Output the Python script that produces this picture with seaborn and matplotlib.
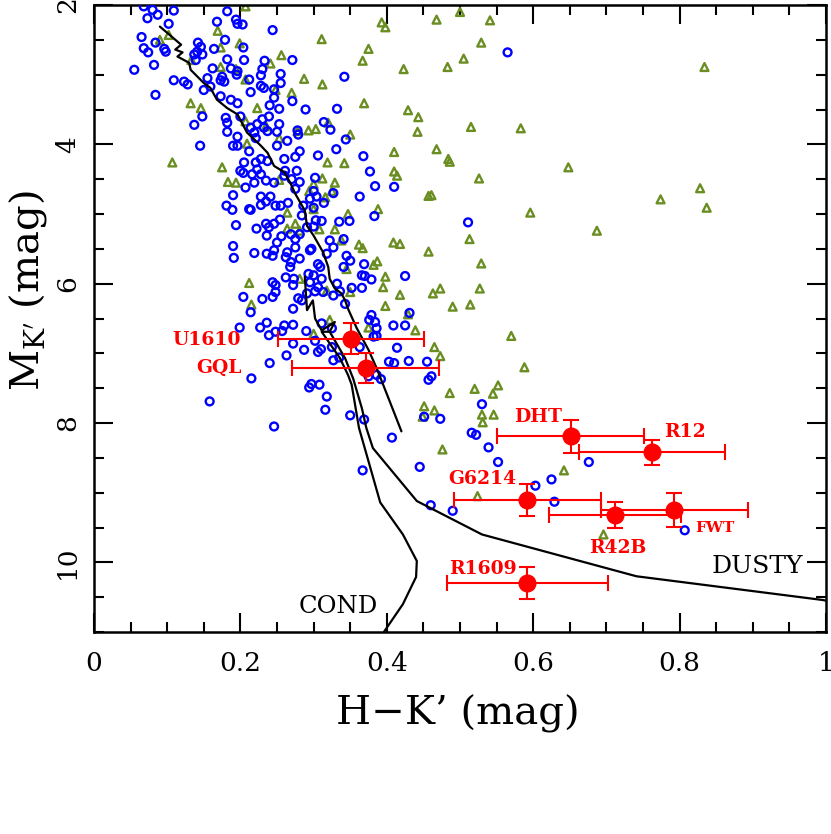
import numpy as np
import pandas as pd
import matplotlib
matplotlib.use("Agg")
import matplotlib.pyplot as plt
import seaborn as sns
from matplotlib.ticker import MultipleLocator

sns.set_theme(style="ticks")
plt.rcParams['font.family'] = ['DejaVu Serif']
plt.rcParams['mathtext.fontset'] = 'dejavuserif'
plt.rcParams['text.color'] = 'black'
plt.rcParams['axes.labelcolor'] = 'black'

# --- field dwarfs (blue circles): H-K', M_K' ---
blue_hk = [
    0.068, 0.080, 0.087, 0.109, 0.073, 0.182, 0.102, 0.168, 0.194, 0.203, 0.196, 0.244,
    0.065, 0.084, 0.068, 0.074, 0.096, 0.098, 0.142, 0.146, 0.141, 0.164, 0.179, 0.204,
    0.055, 0.082, 0.137, 0.139, 0.148, 0.182, 0.205, 0.233, 0.162, 0.187, 0.196, 0.230,
    0.255, 0.109, 0.123, 0.128, 0.155, 0.175, 0.173, 0.178, 0.195, 0.212, 0.228, 0.150,
    0.159, 0.228, 0.232, 0.214, 0.246, 0.255, 0.084, 0.173, 0.187, 0.196, 0.246, 0.240,
    0.253, 0.148, 0.137, 0.180, 0.182, 0.200, 0.214, 0.223, 0.230, 0.232, 0.239, 0.253,
    0.182, 0.196, 0.219, 0.221, 0.237, 0.250, 0.264, 0.145, 0.190, 0.196, 0.250,
    0.271, 0.565, 0.342, 0.271, 0.289, 0.332, 0.314, 0.323, 0.278, 0.279, 0.344,
    0.212, 0.228, 0.237, 0.260, 0.205, 0.221, 0.200, 0.204, 0.216, 0.223, 0.228, 0.235,
    0.246, 0.219, 0.207, 0.260, 0.190, 0.228, 0.241, 0.235, 0.228, 0.265, 0.248, 0.255,
    0.181, 0.189, 0.212, 0.214, 0.254, 0.194, 0.222, 0.235, 0.239, 0.246, 0.236, 0.256,
    0.250, 0.269, 0.190, 0.191, 0.219, 0.236, 0.244, 0.246, 0.264, 0.262, 0.269, 0.268,
    0.262, 0.244, 0.248, 0.273,
    0.275, 0.281, 0.306, 0.331, 0.368, 0.277, 0.261, 0.270, 0.281, 0.302, 0.377, 0.384,
    0.410, 0.275, 0.300, 0.327, 0.295, 0.304, 0.314, 0.363, 0.286, 0.300, 0.284, 0.303,
    0.311, 0.335, 0.349, 0.383, 0.511, 0.291, 0.300, 0.281, 0.275, 0.322, 0.341, 0.327,
    0.275, 0.295, 0.297, 0.318, 0.281, 0.306, 0.309, 0.345, 0.350, 0.341, 0.369, 0.366,
    0.370, 0.379, 0.425, 0.293, 0.300, 0.311, 0.272, 0.295, 0.306, 0.332, 0.352,
    0.204, 0.230, 0.244, 0.248, 0.214, 0.272, 0.199, 0.227, 0.236, 0.239, 0.248, 0.257,
    0.260, 0.272, 0.272, 0.263, 0.240, 0.215, 0.158, 0.246,
    0.302, 0.291, 0.279, 0.284, 0.313, 0.327, 0.343, 0.336, 0.366, 0.379, 0.384, 0.376,
    0.386, 0.382, 0.386, 0.409, 0.425, 0.431, 0.290, 0.311, 0.325, 0.302, 0.325, 0.287,
    0.306, 0.310, 0.335, 0.327, 0.363, 0.414, 0.403, 0.410, 0.430, 0.455, 0.457, 0.461,
    0.386, 0.392, 0.375, 0.294, 0.297, 0.308, 0.318, 0.316, 0.350, 0.369, 0.407, 0.530,
    0.473, 0.451, 0.516, 0.522,
    0.539, 0.552, 0.676, 0.625, 0.603, 0.367, 0.445, 0.460, 0.490, 0.629, 0.807,
]
blue_mk = [
    2.02, 2.07, 2.14, 2.08, 2.19, 2.09, 2.27, 2.24, 2.21, 2.28, 2.27, 2.36,
    2.46, 2.54, 2.62, 2.68, 2.63, 2.67, 2.54, 2.60, 2.67, 2.63, 2.50, 2.61,
    2.93, 2.86, 2.71, 2.79, 2.71, 2.78, 2.79, 2.80, 2.91, 2.91, 2.95, 2.92,
    2.99, 3.08, 3.10, 3.14, 3.05, 3.03, 3.08, 3.10, 3.00, 3.07, 3.01, 3.22,
    3.17, 3.16, 3.19, 3.25, 3.21, 3.12, 3.29, 3.31, 3.36, 3.41, 3.33, 3.44,
    3.49, 3.60, 3.72, 3.62, 3.69, 3.60, 3.76, 3.71, 3.64, 3.76, 3.60, 3.71,
    3.82, 3.89, 3.83, 3.91, 3.81, 3.82, 3.95, 4.02, 4.02, 4.02, 4.02,
    2.79, 2.68, 3.03, 3.38, 3.50, 3.49, 3.68, 3.79, 3.80, 3.86, 3.93,
    4.10, 4.21, 4.24, 4.21, 4.26, 4.26, 4.38, 4.41, 4.43, 4.36, 4.43, 4.52,
    4.55, 4.55, 4.62, 4.45, 4.73, 4.75, 4.75, 4.82, 4.87, 4.84, 4.88, 4.88,
    4.88, 4.94, 4.93, 4.94, 5.08, 5.16, 5.21, 5.14, 5.19, 5.14, 5.31, 5.32,
    5.41, 5.29, 5.46, 5.63, 5.56, 5.57, 5.60, 5.52, 5.55, 5.62, 5.69, 5.76,
    5.91, 5.98, 6.02, 5.93,
    4.18, 4.10, 4.16, 4.07, 4.17, 4.38, 4.38, 4.50, 4.54, 4.48, 4.39, 4.60,
    4.61, 4.64, 4.67, 4.70, 4.78, 4.75, 4.84, 4.75, 4.88, 4.91, 5.02, 5.09,
    5.10, 5.11, 5.10, 5.03, 5.12, 5.19, 5.18, 5.29, 5.36, 5.38, 5.36, 5.48,
    5.48, 5.52, 5.50, 5.57, 5.64, 5.72, 5.76, 5.60, 5.67, 5.76, 5.72, 5.88,
    5.89, 5.94, 5.89, 5.86, 5.88, 5.93, 6.02, 5.98, 6.05, 6.00, 6.06,
    6.19, 6.22, 6.19, 6.12, 6.41, 6.36, 6.63, 6.63, 6.56, 6.74, 6.69, 6.68,
    6.60, 6.59, 6.86, 7.03, 7.14, 7.36, 7.69, 8.05,
    6.11, 6.14, 6.21, 6.24, 6.12, 6.17, 6.29, 6.11, 6.06, 6.45, 6.55, 6.52,
    6.64, 6.76, 6.75, 6.60, 6.60, 6.42, 6.68, 6.57, 6.64, 6.82, 6.91, 6.95,
    6.98, 6.94, 7.06, 7.10, 6.91, 6.92, 7.12, 7.14, 7.11, 7.12, 7.38, 7.33,
    7.31, 7.37, 7.33, 7.49, 7.44, 7.45, 7.62, 7.81, 7.89, 7.95, 8.21, 7.73,
    7.94, 7.91, 8.14, 8.17,
    8.35, 8.56, 8.56, 8.81, 8.90, 8.68, 8.63, 9.18, 9.26, 9.13, 9.54,
]

# --- comparison objects (green triangles) ---
green_hk = [
    0.207, 0.169, 0.102, 0.090, 0.199, 0.173, 0.133, 0.173, 0.194, 0.207, 0.256, 0.241,
    0.248, 0.270, 0.132, 0.146, 0.223, 0.207, 0.235, 0.253, 0.209,
    0.500, 0.393, 0.398, 0.468, 0.541, 0.311, 0.375, 0.529, 0.367, 0.505, 0.423, 0.483,
    0.287, 0.312, 0.369, 0.429, 0.443, 0.442, 0.515, 0.583, 0.278, 0.293, 0.303, 0.320,
    0.350,
    0.107, 0.175, 0.183, 0.194, 0.253, 0.264, 0.264, 0.212,
    0.410, 0.468, 0.484, 0.486, 0.319, 0.342, 0.410, 0.414, 0.526, 0.312, 0.329, 0.300,
    0.294, 0.325, 0.316, 0.457, 0.461, 0.300, 0.347, 0.388, 0.596, 0.275, 0.281, 0.308,
    0.329, 0.338, 0.362, 0.367, 0.409, 0.418, 0.513, 0.457, 0.382, 0.387, 0.345, 0.398,
    0.529, 0.281, 0.395, 0.473, 0.527,
    0.834, 0.648, 0.687, 0.774, 0.828, 0.837, 0.215,
    0.318, 0.350, 0.418, 0.463, 0.398, 0.429, 0.490, 0.514, 0.322, 0.439, 0.375, 0.300,
    0.465, 0.473, 0.486, 0.520, 0.545, 0.552, 0.451, 0.465, 0.449, 0.530, 0.546, 0.531,
    0.570, 0.588, 0.476, 0.642, 0.524, 0.696,
]
green_mk = [
    2.02, 2.37, 2.43, 2.50, 2.55, 2.61, 2.79, 2.89, 2.92, 3.07, 2.72, 2.84,
    3.22, 3.26, 3.41, 3.48, 3.48, 3.67, 3.74, 3.91, 3.99,
    2.10, 2.25, 2.32, 2.21, 2.22, 2.49, 2.63, 2.54, 2.80, 2.77, 2.92, 2.89,
    3.06, 3.14, 3.41, 3.51, 3.61, 3.82, 3.75, 3.77, 3.81, 3.80, 3.78, 3.69,
    3.86,
    4.26, 4.33, 4.54, 4.55, 4.51, 4.98, 5.21, 5.99,
    4.11, 4.07, 4.21, 4.25, 4.26, 4.27, 4.39, 4.45, 4.49, 4.49, 4.55, 4.57,
    4.67, 4.67, 4.76, 4.74, 4.73, 4.93, 5.00, 4.93, 4.98, 5.14, 5.24, 5.22,
    5.22, 5.38, 5.44, 5.49, 5.41, 5.43, 5.36, 5.54, 5.73, 5.68, 5.79, 5.90,
    5.71, 5.93, 6.05, 6.07, 6.07,
    2.89, 4.33, 5.24, 4.79, 4.63, 4.91, 6.30,
    6.10, 6.12, 6.16, 6.14, 6.32, 6.44, 6.33, 6.30, 6.52, 6.67, 6.63, 6.72,
    6.91, 7.04, 7.57, 7.51, 7.58, 7.46, 7.76, 7.82, 7.91, 7.88, 7.88, 7.99,
    6.75, 7.20, 8.38, 8.68, 9.05, 9.60,
]

# --- red targets with error bars ---
names = ['U1610', 'GQL', 'DHT', 'R12', 'G6214', 'R42B', 'FWT', 'R1609']
red_hk = [0.351, 0.371, 0.651, 0.762, 0.592, 0.712, 0.793, 0.592]
red_mk = [6.79, 7.21, 8.19, 8.42, 9.11, 9.32, 9.25, 10.30]
red_hk_err = [0.10, 0.10, 0.10, 0.10, 0.10, 0.09, 0.10, 0.11]
red_mk_err = [0.22, 0.22, 0.24, 0.18, 0.23, 0.19, 0.24, 0.23]

# --- model sequences ---
seq_hk = [0.090, 0.119, 0.111, 0.121, 0.114, 0.130, 0.132, 0.150, 0.159, 0.168, 0.182,
          0.196, 0.209, 0.228, 0.237, 0.246, 0.260, 0.268, 0.275, 0.288, 0.291, 0.300,
          0.313, 0.320, 0.322, 0.329, 0.338, 0.343, 0.347, 0.359, 0.375, 0.386, 0.404,
          0.420]
seq_mk = [2.31, 2.57, 2.64, 2.68, 2.74, 2.83, 2.93, 3.12, 3.19, 3.36, 3.48,
          3.57, 3.83, 4.02, 4.12, 4.31, 4.40, 4.55, 4.71, 4.95, 5.17, 5.31,
          5.55, 5.76, 5.93, 6.07, 6.14, 6.24, 6.36, 6.64, 6.95, 7.21, 7.69,
          8.12]
cond_hk = [0.288, 0.291, 0.299, 0.302, 0.311, 0.329, 0.322, 0.311, 0.336, 0.347, 0.352,
           0.362, 0.391, 0.422, 0.441, 0.440, 0.422, 0.396]
cond_mk = [5.90, 6.38, 6.24, 6.50, 6.67, 6.55, 6.69, 6.69, 7.07, 7.31, 7.45,
           8.07, 9.14, 9.60, 9.98, 10.21, 10.60, 11.0]
dusty_hk = [0.322, 0.343, 0.354, 0.366, 0.372, 0.381, 0.441, 0.530, 0.741, 0.995, 1.0]
dusty_mk = [6.69, 7.07, 7.36, 7.79, 8.07, 8.36, 9.12, 9.60, 10.20, 10.54, 10.55]

df_blue = pd.DataFrame({'hk': blue_hk, 'mk': blue_mk})
df_green = pd.DataFrame({'hk': green_hk, 'mk': green_mk})

fig = plt.figure(figsize=(8.31, 8.34), dpi=100)
ax = fig.add_axes([94 / 831, 1 - 632 / 834, 732 / 831, 627 / 834])

sns.scatterplot(data=df_green, x='hk', y='mk', ax=ax, marker='^', s=32,
                facecolors='none', edgecolor='olivedrab', linewidth=1.7, zorder=2)
sns.scatterplot(data=df_blue, x='hk', y='mk', ax=ax, marker='o', s=32,
                facecolors='none', edgecolor='#0000ff', linewidth=1.7, zorder=3)

ax.plot(seq_hk, seq_mk, color='black', lw=1.6, zorder=4)
ax.plot(cond_hk, cond_mk, color='black', lw=1.6, zorder=4)
ax.plot(dusty_hk, dusty_mk, color='black', lw=1.6, zorder=4)

ax.errorbar(red_hk, red_mk, xerr=red_hk_err, yerr=red_mk_err, fmt='o', color='red',
            ms=12, elinewidth=1.5, capsize=6, capthick=1.5, zorder=5)

# labels next to the targets
label_pos = {
    'U1610': (0.201, 6.81, 'right', 13.5),
    'GQL': (0.201, 7.21, 'right', 13.5),
    'DHT': (0.607, 7.91, 'center', 13.5),
    'R12': (0.807, 8.13, 'center', 13.5),
    'G6214': (0.531, 8.81, 'center', 13.5),
    'R42B': (0.716, 9.79, 'center', 13.5),
    'FWT': (0.848, 9.50, 'center', 11),
    'R1609': (0.531, 10.10, 'center', 13.5),
}
for n in names:
    x, y, ha, fs = label_pos[n]
    ax.text(x, y, n, color='red', fontweight='bold', fontsize=fs, ha=ha, va='center')

ax.text(0.906, 10.06, 'DUSTY', fontsize=18, color='black', ha='center', va='center')
ax.text(0.333, 10.64, 'COND', fontsize=17.5, color='black', ha='center', va='center')

ax.set_xlim(0, 1)
ax.set_ylim(11, 2)
ax.xaxis.set_minor_locator(MultipleLocator(0.05))
ax.yaxis.set_major_locator(MultipleLocator(2))
ax.yaxis.set_minor_locator(MultipleLocator(0.5))
ax.set_xticks([0, 0.2, 0.4, 0.6, 0.8, 1.0])
ax.set_xticklabels(['0', '0.2', '0.4', '0.6', '0.8', '1'])
ax.tick_params(which='both', direction='in', top=True, right=True, width=1.5,
               colors='black', labelsize=19)
ax.tick_params(which='major', length=14)
ax.tick_params(axis='x', which='major', pad=14)
ax.tick_params(axis='y', which='major', pad=10)
ax.tick_params(which='minor', length=7)
ax.tick_params(axis='y', labelrotation=90)
for lab in ax.get_yticklabels():
    lab.set_va('center')
for sp in ax.spines.values():
    sp.set_linewidth(1.8)
    sp.set_color('black')

ax.set_xlabel('H\u2212K\u2019 (mag)', fontsize=29, color='black')
ax.set_ylabel(r"M$_{\mathrm{K}'}$ (mag)", fontsize=29, color='black')
ax.xaxis.set_label_coords(0.497, -0.10)
ax.yaxis.set_label_coords(-0.062, 0.545)
ax.grid(False)

fig.savefig('out.png', dpi=100)
